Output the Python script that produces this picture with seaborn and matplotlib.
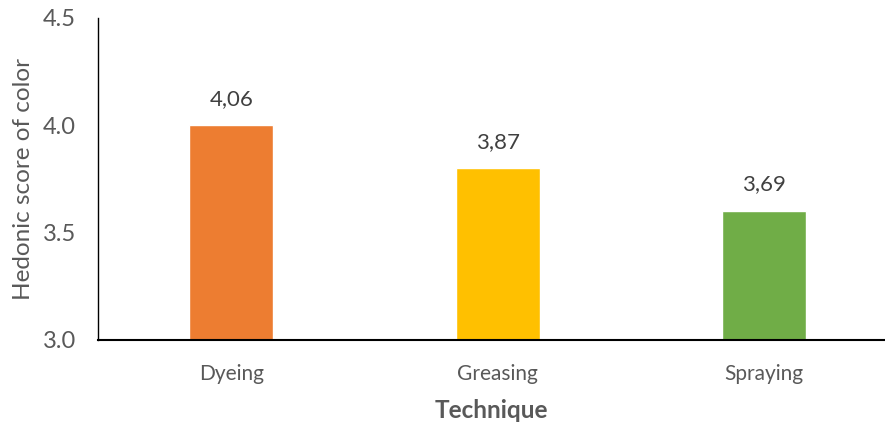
import matplotlib
matplotlib.use("Agg")
import matplotlib.pyplot as plt
import seaborn as sns
import pandas as pd

categories = ["Dyeing", "Greasing", "Spraying"]
bar_values = [4.00, 3.80, 3.60]
value_labels = ["4,06", "3,87", "3,69"]
colors = ["#ED7D31", "#FFC000", "#70AD47"]
y_ticks = [3.0, 3.5, 4.0, 4.5]

sns.set_theme(style="white")
plt.rcParams["font.family"] = ["Lato", "DejaVu Sans"]

df = pd.DataFrame({"Technique": categories, "Score": bar_values})

fig = plt.figure(figsize=(8.85, 4.28), dpi=100)
W, H = 885, 428
ax = fig.add_axes([98 / W, (H - 340) / H, (885 - 98) / W, 322 / H])

sns.barplot(data=df, x="Technique", y="Score", hue="Technique",
            palette=colors, width=0.315, legend=False, ax=ax,
            saturation=1, bottom=0)

ax.set_ylim(3.0, 4.5)
ax.set_xlim(-0.5, 2.454)
ax.set_yticks(y_ticks)
ax.set_yticklabels([f"{t:.1f}" for t in y_ticks])

for p, lab in zip(ax.patches, value_labels):
    ax.annotate(lab, (p.get_x() + p.get_width() / 2, p.get_height()),
                xytext=(0, 12), textcoords="offset points",
                ha="center", va="bottom", fontsize=16, color="#404040")

for s in ["top", "right"]:
    ax.spines[s].set_visible(False)
ax.spines["left"].set_color("black")
ax.spines["left"].set_linewidth(1.0)
ax.spines["bottom"].set_color("black")
ax.spines["bottom"].set_linewidth(1.5)

ax.tick_params(axis="y", length=0, pad=16, labelsize=17, labelcolor="#595959")
ax.tick_params(axis="x", length=0, pad=17, labelsize=15, labelcolor="#595959")

ax.set_xlabel("Technique", fontsize=17.5, fontweight="bold", color="#595959", labelpad=11)
ax.set_ylabel("Hedonic score of color", fontsize=17.5, color="#595959", labelpad=6)

fig.savefig("out.png", dpi=100)
